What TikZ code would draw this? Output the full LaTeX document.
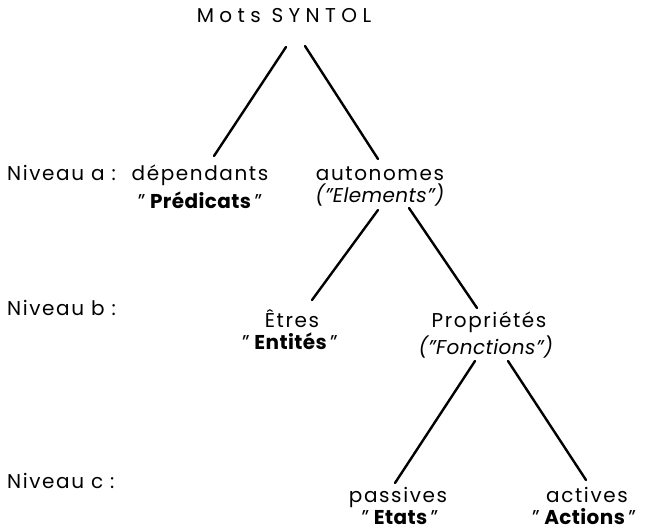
\documentclass[tikz,border=0pt]{standalone}
\usepackage{fontspec}
\setmainfont{Poppins}[LetterSpace=8, BoldFeatures={LetterSpace=2}, ItalicFeatures={LetterSpace=2}]
\newfontfamily\ttlfont{Poppins}[LetterSpace=27]
\newcommand\qsp{\hspace{3pt}}
\tikzset{
  lbl/.style={inner sep=0pt, anchor=base, font=\fontsize{20}{22}\selectfont},
  lvl/.style={lbl, anchor=base west},
  link/.style={line width=2.4pt, line cap=round}
}
\begin{document}
\begin{tikzpicture}[x=1pt, y=-1pt]
\fill[white] (0,0) rectangle (645,531);
\useasboundingbox (0,0) rectangle (645,531);
\node[lbl] (title) at (284,22) {\ttlfont Mots SYNTOL};
\node[lvl] (na) at (7,180) {Niveau a :};
\node[lbl] (dep) at (200,180) {dépendants};
\node[lbl] (pred) at (200,208) {"\qsp\textbf{Prédicats}\qsp"};
\node[lbl] (auto) at (380,180) {autonomes};
\node[lbl] (elem) at (380,202) {\textit{("Elements")}};
\node[lvl] (nb) at (7,315) {Niveau b :};
\node[lbl] (etres) at (292,327) {Êtres};
\node[lbl] (ent) at (290,349) {"\qsp\textbf{Entités}\qsp"};
\node[lbl] (prop) at (489,327) {Propriétés};
\node[lbl] (fonc) at (486,354) {\textit{("Fonctions")}};
\node[lvl] (nc) at (7,488) {Niveau c :};
\node[lbl] (pass) at (398,502) {passives};
\node[lbl] (etats) at (400,524) {"\qsp\textbf{Etats}\qsp"};
\node[lbl] (act) at (587,502) {actives};
\node[lbl] (actions) at (584,524) {"\qsp\textbf{Actions}\qsp"};
\draw[link] ([shift={(2,25)}]title.base) -- ([shift={(14,-24)}]dep.base);
\draw[link] ([shift={(21,24)}]title.base) -- ([shift={(-2,-21)}]auto.base);
\draw[link] ([shift={(-2,8)}]elem.base) -- ([shift={(20,-27)}]etres.base);
\draw[link] ([shift={(29,6)}]elem.base) -- ([shift={(-12,-19)}]prop.base);
\draw[link] ([shift={(-11,7)}]fonc.base) -- ([shift={(-3,-19)}]pass.base);
\draw[link] ([shift={(22,7)}]fonc.base) -- ([shift={(-1,-22)}]act.base);
\end{tikzpicture}
\end{document}
